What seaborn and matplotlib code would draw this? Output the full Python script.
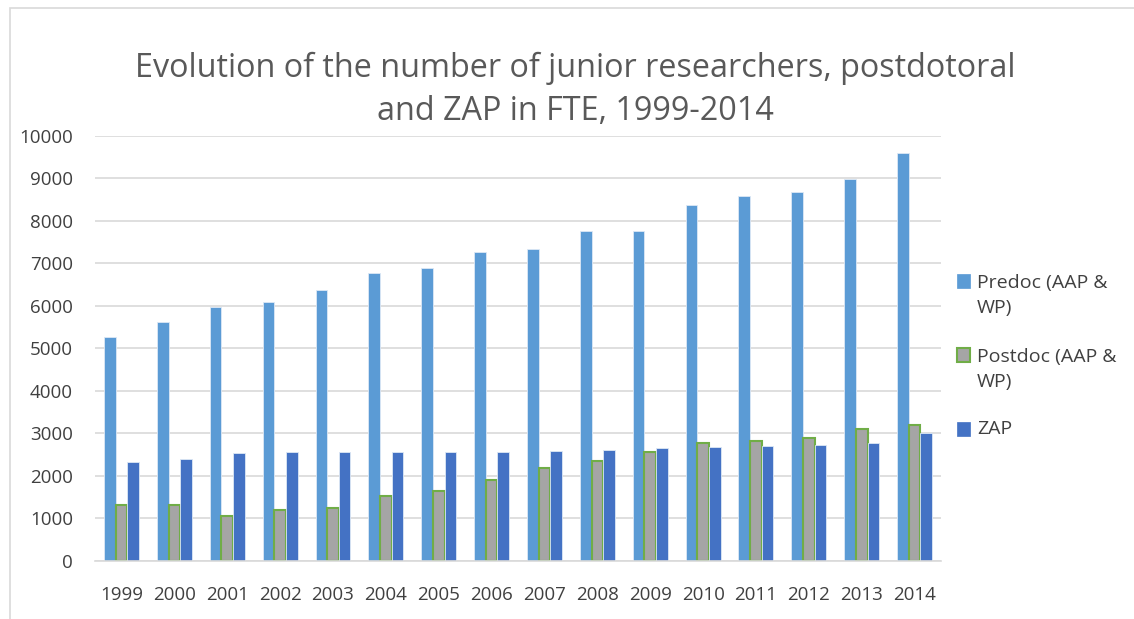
import pandas as pd
import numpy as np
import matplotlib
matplotlib.use('Agg')
import matplotlib.pyplot as plt
import seaborn as sns
from matplotlib.patches import Rectangle

# --------------------------------------------------------------
# Data
# --------------------------------------------------------------
years = [str(y) for y in range(1999, 2015)]
predoc = [5260, 5630, 5970, 6090, 6380, 6770, 6900, 7280, 7340, 7760, 7760, 8380, 8590, 8680, 8980, 9600]
postdoc = [1320, 1320, 1060, 1200, 1250, 1530, 1650, 1900, 2180, 2360, 2560, 2770, 2830, 2890, 3110, 3190]
zap = [2340, 2390, 2540, 2570, 2570, 2560, 2560, 2560, 2590, 2610, 2670, 2690, 2710, 2740, 2770, 3010]
series = ['Predoc (AAP & WP)', 'Postdoc (AAP & WP)', 'ZAP']
legend_labels = ['Predoc (AAP &\nWP)', 'Postdoc (AAP &\nWP)', 'ZAP']
colors = ['#5B9BD5', '#A5A5A5', '#4472C4']
edges = ['#5B9BD5', '#70AD47', '#4472C4']

df = pd.DataFrame({
    'year': years * 3,
    'value': predoc + postdoc + zap,
    'series': [series[0]] * 16 + [series[1]] * 16 + [series[2]] * 16,
})

sns.set_style('white')
plt.rcParams['font.family'] = ['Open Sans', 'DejaVu Sans']

W, H = 1134, 619
fig = plt.figure(figsize=(W / 100, H / 100), dpi=100)
ax = fig.add_axes([0.0838, 0.0937, 0.746, 0.6866])

sns.barplot(data=df, x='year', y='value', hue='series', palette=colors,
            width=0.66, ax=ax, legend=False, saturation=1)

# bar edges: green outline for postdoc, light edge for the others
for i, cont in enumerate(ax.containers):
    for bar in cont:
        if i == 1:
            bar.set_edgecolor('#70AD47')
            bar.set_linewidth(1.5)
        else:
            bar.set_edgecolor('#DDE8F5')
            bar.set_linewidth(0.6)

ax.set_ylim(0, 10000)
ax.set_xlim(-0.5, 15.5)
ax.set_yticks(np.arange(0, 10001, 1000))
ax.yaxis.grid(True, color='#D9D9D9', linewidth=1.2)
ax.set_axisbelow(True)
for s in ['top', 'right', 'left']:
    ax.spines[s].set_visible(False)
ax.spines['bottom'].set_color('#D9D9D9')
ax.spines['bottom'].set_linewidth(1.2)
ax.tick_params(axis='both', length=0, labelsize=13.5, labelcolor='#404040')
ax.tick_params(axis='y', pad=16)
ax.tick_params(axis='x', pad=18)
ax.set_xlabel('')
ax.set_ylabel('')

fig.text(0.507, 0.855, 'Evolution of the number of junior researchers, postdotoral\nand ZAP in FTE, 1999-2014',
         ha='center', va='center', fontsize=23.3, color='#595959', linespacing=1.4)

# legend built by hand so the wrapped labels get Excel-like line spacing
first_line_y = [281, 355, 429]   # pixel rows of each entry's first line
line_gap = 29
for lab, fc, ec, y in zip(legend_labels, colors, edges, first_line_y):
    fig.patches.append(Rectangle(((957) / W, 1 - (y + 7) / H), 13 / W, 14 / H,
                                 transform=fig.transFigure, facecolor=fc,
                                 edgecolor=ec, linewidth=1.5 if ec != fc else 0.5))
    n = lab.count('\n')
    yc = y + n * line_gap / 2
    fig.text(977 / W, 1 - yc / H, lab, ha='left', va='center', fontsize=14,
             color='#404040', linespacing=1.5)

# chart border
fig.patches.append(Rectangle((0.009, -0.1), 1.2, 1.087, transform=fig.transFigure,
                             fill=False, edgecolor='#D9D9D9', linewidth=1.2))

fig.savefig('out.png', dpi=100)
plt.close(fig)
